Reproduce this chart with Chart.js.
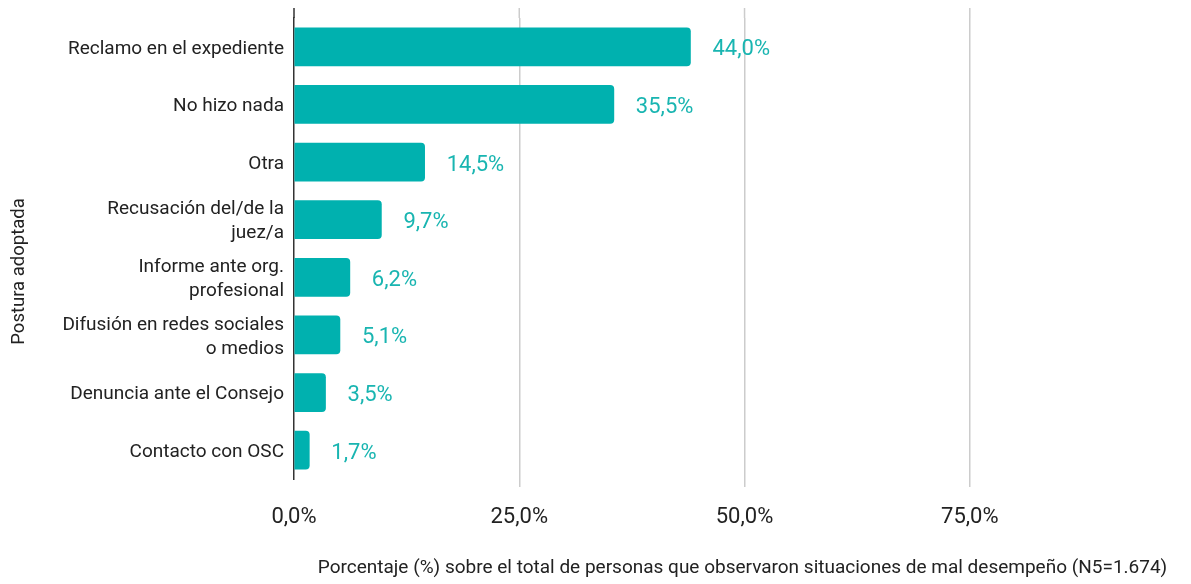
<!DOCTYPE html>
<html>
<head>
<meta charset="utf-8">
<script src="https://cdn.jsdelivr.net/npm/chart.js@4/dist/chart.umd.min.js"></script>
<style>
  html, body { margin: 0; padding: 0; background: #fff; }
  #wrap { width: 1191px; height: 584px; }
</style>
</head>
<body>
<div id="wrap"><canvas id="myChart" width="1191" height="584"></canvas></div>
<script>
const categories = [
	'Reclamo en el expediente',
	'No hizo nada',
	'Otra',
	['Recusación del/de la', 'juez/a'],
	['Informe ante org.', 'profesional'],
	['Difusión en redes sociales', 'o medios'],
	'Denuncia ante el Consejo',
	'Contacto con OSC'
];
const values = [44.0, 35.5, 14.5, 9.7, 6.2, 5.1, 3.5, 1.7];
const xTicks = [0, 25, 50, 75];
const xTitle = 'Porcentaje (%) sobre el total de personas que observaron situaciones de mal desempeño (N5=1.674)';
const yTitle = 'Postura adoptada';

const barColor = '#00B1AF';
const labelColor = '#19B5B1';

var fmt = function(v){
	return v.toFixed(1).replace('.', ',') + '%';
};

// extends the vertical lines a bit above the plot like the original
var extendLines = {
	id: 'extendLines',
	beforeDatasetsDraw: function(chart){
		var ctx = chart.ctx;
		var xs = chart.scales.x;
		var top = chart.chartArea.top;
		ctx.save();
		xs.ticks.forEach(function(t){
			var px = xs.getPixelForValue(t.value);
			ctx.beginPath();
			ctx.strokeStyle = t.value === 0 ? '#333' : '#cccccc';
			ctx.lineWidth = 1.5;
			ctx.moveTo(px, top - 10);
			ctx.lineTo(px, top);
			ctx.stroke();
		});
		ctx.restore();
	}
};

var barLabels = {
	id: 'barLabels',
	afterDatasetsDraw: function(chart){
		var ctx = chart.ctx;
		var meta = chart.getDatasetMeta(0);
		ctx.save();
		ctx.font = '22px Roboto';
		ctx.fillStyle = labelColor;
		ctx.textAlign = 'left';
		ctx.textBaseline = 'middle';
		meta.data.forEach(function(bar, i){
			ctx.fillText(fmt(values[i]), bar.x + 22, bar.y + 3);
		});
		ctx.restore();
	}
};

var ctx = document.getElementById('myChart');
var myChart = new Chart(ctx, {
	type: 'bar',
	data: {
		labels: categories,
		datasets: [{
			data: values,
			backgroundColor: barColor,
			barThickness: 38,
			borderRadius: 4,
			borderSkipped: 'start'
		}]
	},
	options: {
		indexAxis: 'y',
		responsive: false,
		animation: false,
		devicePixelRatio: 1,
		layout: { padding: { top: 18, right: 0, bottom: 0, left: 0 } },
		plugins: {
			legend: { display: false },
			tooltip: { enabled: false }
		},
		scales: {
			x: {
				min: 0,
				max: 99.55,
				afterBuildTicks: function(scale){
					scale.ticks = xTicks.map(function(v){ return { value: v }; });
				},
				afterFit: function(scale){
					scale.height = 105;
					scale.paddingLeft = 0;
					scale.paddingRight = 0;
				},
				grid: {
					color: function(c){ return c.tick && c.tick.value === 0 ? 'rgba(0,0,0,0)' : '#cccccc'; },
					lineWidth: 1.5,
					tickLength: 8,
					drawTicks: true
				},
				border: { display: false },
				ticks: {
					padding: 17,
					color: '#222',
					font: { family: 'Roboto', size: 22 },
					callback: function(v){ return fmt(v); }
				},
				title: {
					display: true,
					text: xTitle,
					color: '#222',
					font: { family: 'Roboto', size: 19 },
					padding: { top: 4, bottom: 4 }
				}
			},
			y: {
				afterFit: function(scale){
					scale.width = 294;
					scale.paddingTop = 0;
					scale.paddingBottom = 0;
				},
				grid: { display: false, drawTicks: false },
				border: { display: true, color: '#333', width: 1.5 },
				ticks: {
					padding: 10,
					labelOffset: 2,
					color: '#222',
					font: { family: 'Roboto', size: 19, lineHeight: 1.26 }
				},
				title: {
					display: true,
					// trailing spaces push the title a bit lower, like the original
					text: yTitle + '\u00a0\u00a0\u00a0\u00a0\u00a0\u00a0\u00a0\u00a0\u00a0\u00a0',
					color: '#222',
					font: { family: 'Roboto', size: 18.5 },
					padding: { top: 8, bottom: 0 }
				}
			}
		}
	},
	plugins: [extendLines, barLabels]
});
</script>
</body>
</html>
